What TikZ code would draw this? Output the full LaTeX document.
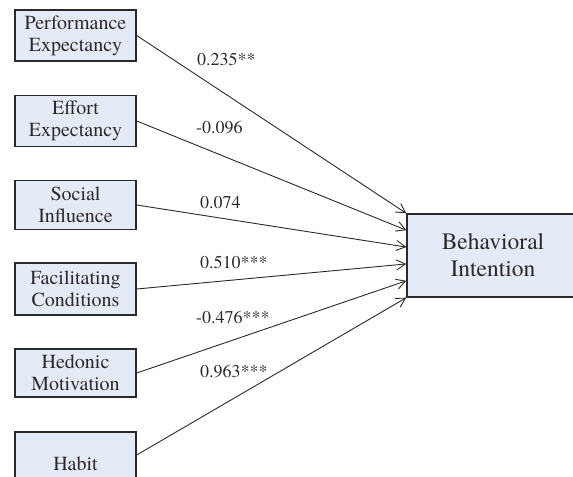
\documentclass[tikz,border=0pt]{standalone}
\usepackage{fontspec}
\setmainfont{TeX Gyre Termes}
\usetikzlibrary{arrows.meta,calc}
\definecolor{boxfill}{HTML}{E5EBF6}
\definecolor{ink}{HTML}{2A2A2A}
\tikzset{
  factor/.style={draw=ink, line width=1.4bp, fill=boxfill, minimum width=121bp, minimum height=51bp,
    inner sep=0pt, align=center, text=ink, font=\fontsize{20bp}{22bp}\selectfont},
  outcome/.style={draw=ink, line width=1.4bp, fill=boxfill, minimum width=172bp, minimum height=83bp,
    inner sep=0pt, align=center, text=ink, font=\fontsize{23.5bp}{27bp}\selectfont},
  path/.style={draw=ink, line width=0.9bp, -{Straight Barb[length=9bp,width=10bp,line width=0.9bp]}},
  coef/.style={anchor=west, inner sep=0pt, text=ink, font=\fontsize{18bp}{20bp}\selectfont}
}
\begin{document}
\begin{tikzpicture}[x=1bp,y=-1bp]
\useasboundingbox (0,0) rectangle (573,477);
\node[factor] (pe) at (75.5,35.5) {Performance\\Expectancy};
\node[factor] (ee) at (75.5,121) {Effort\\Expectancy};
\node[factor, minimum height=49bp] (si) at (75.5,205) {Social\\Influence};
\node[factor, minimum height=52bp] (fc) at (75.5,289) {Facilitating\\Conditions};
\node[factor, minimum height=48bp] (hm) at (75.5,373) {Hedonic\\Motivation};
\node[factor, minimum height=46bp, text height=0pt] (hb) at (75.5,455) {};
\node[text=ink, font=\fontsize{20bp}{22bp}\selectfont, inner sep=0pt] (hbt) at (75.5,464) {Habit};
\node[outcome] (bi) at (493,255.5) {Behavioral\\Intention};
\foreach \n [count=\i from 0] in {pe,ee,si,fc,hm,hb}{
  \coordinate (t\i) at ($(bi.north west)!\i/5!(bi.south west)$);
  \draw[path] (\n.east) -- (t\i);
}
\node[coef] (c1) at (197,59) {0.235**};
\node[coef] (c2) at (196,128) {-0.096};
\node[coef] (c3) at (200,203) {0.074};
\node[coef] (c4) at (200,262) {0.510***};
\node[coef] (c5) at (196,317) {-0.476***};
\node[coef] (c6) at (200,372) {0.963***};
\end{tikzpicture}
\end{document}
